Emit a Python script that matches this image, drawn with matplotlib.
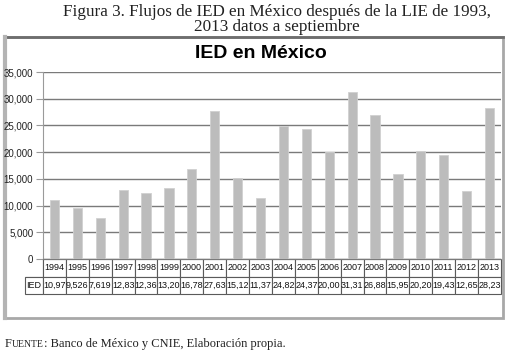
import matplotlib
matplotlib.use("Agg")
import matplotlib.pyplot as plt
from matplotlib.patches import Rectangle
from matplotlib.lines import Line2D

years = ["1994", "1995", "1996", "1997", "1998", "1999", "2000", "2001", "2002", "2003",
         "2004", "2005", "2006", "2007", "2008", "2009", "2010", "2011", "2012", "2013"]
ied = [10970, 9526, 7619, 12830, 12360, 13200, 16780, 27630, 15120, 11370,
       24820, 24370, 20000, 31310, 26880, 15950, 20200, 19430, 12650, 28230]
ied_labels = ["10,97", "9,526", "7,619", "12,83", "12,36", "13,20", "16,78", "27,63", "15,12", "11,37",
              "24,82", "24,37", "20,00", "31,31", "26,88", "15,95", "20,20", "19,43", "12,65", "28,23"]
yticks = [0, 5000, 10000, 15000, 20000, 25000, 30000, 35000]
ytick_labels = ["0", "5,000", "10,000", "15,000", "20,000", "25,000", "30,000", "35,000"]

W, H = 507, 359
fig = plt.figure(figsize=(W / 100, H / 100), dpi=100)
fig.patch.set_facecolor("white")

def fx(px):
    return px / W

def fy(py):
    return 1 - py / H

sans = ["Liberation Sans", "DejaVu Sans"]
serif = ["Liberation Serif", "DejaVu Serif"]

# outer frame (drawn beneath the axes)
fig.add_artist(Rectangle((fx(5), fy(318)), fx(503) - fx(5), fy(37) - fy(318),
                         transform=fig.transFigure, fill=False, edgecolor="#a8a8a8", lw=2,
                         zorder=-5))
fig.add_artist(Line2D([fx(5), fx(503)], [fy(37), fy(37)], transform=fig.transFigure,
                      color="#6e6e6e", lw=2, zorder=-5))
fig.add_artist(Line2D([fx(5), fx(5)], [fy(37), fy(318)], transform=fig.transFigure,
                      color="#b4b4b4", lw=3, zorder=-5))

left, right, top, bottom = 43, 501, 72, 259
ax = fig.add_axes([fx(left), fy(bottom), fx(right) - fx(left), fy(top) - fy(bottom)])
x = list(range(len(years)))
ax.bar(x, ied, width=0.4, color="#bcbcbc", edgecolor="#d0d0d0", lw=0.6, zorder=3)
ax.set_xlim(-0.5, len(years) - 0.5)
ax.set_ylim(0, 35000)
ax.set_yticks(yticks)
ax.set_yticklabels(ytick_labels, fontsize=7, family=sans, color="#222222")
ax.set_xticks([])
ax.yaxis.grid(True, color="#7a7a7a", lw=1, zorder=0)
for s in ["top", "right"]:
    ax.spines[s].set_visible(False)
ax.spines["left"].set_color("#9a9a9a")
ax.spines["bottom"].set_color("#7a7a7a")
ax.tick_params(axis="y", length=5, color="#9a9a9a", pad=2)

# data table
ph = bottom - top
tab_h = (294 - 259) / ph
x0 = (25 - left) / (right - left)
cell_text = [[""] + years, ["IED"] + ied_labels]
colw = [18] + [(right - left) / len(years)] * len(years)
tbl = ax.table(cellText=cell_text, colWidths=colw, cellLoc="center",
               bbox=[x0, -tab_h, 1 - x0, tab_h])
tbl.auto_set_font_size(False)
tbl.set_fontsize(6.5)
for (r, c), cell in tbl.get_celld().items():
    cell.set_edgecolor("#5a5a5a")
    cell.set_linewidth(0.8)
    cell.get_text().set_family(sans)
    cell.get_text().set_color("#111111")
    cell.PAD = 0.02
    if r == 0 and c == 0:
        cell.visible_edges = "BR"
    if r == 1 and c == 0:
        cell.get_text().set_ha("left")
        cell.PAD = 0.08

# chart title
fig.text(fx(261), fy(54), "IED en México", ha="center", va="center", fontsize=14,
         fontweight="bold", family=sans)

# figure caption
fig.text(fx(277), fy(12), "Figura 3. Flujos de IED en México después de la LIE de 1993,",
         ha="center", va="center", fontsize=12.3, family=serif, color="#222222")
fig.text(fx(277), fy(27), "2013 datos a septiembre",
         ha="center", va="center", fontsize=12.3, family=serif, color="#222222")

# source
t1 = fig.text(fx(5), fy(347), "F", ha="left", va="baseline", fontsize=9, family=serif, color="#222222")
fig.canvas.draw()
bb = t1.get_window_extent()
t2 = fig.text(bb.x1 / W, fy(347), "UENTE", ha="left", va="baseline", fontsize=7, family=serif, color="#222222")
fig.canvas.draw()
bb2 = t2.get_window_extent()
fig.text(bb2.x1 / W, fy(347), ": Banco de México y CNIE, Elaboración propia.", ha="left", va="baseline",
         fontsize=9, family=serif, color="#222222")

fig.savefig("out.png", dpi=100)
